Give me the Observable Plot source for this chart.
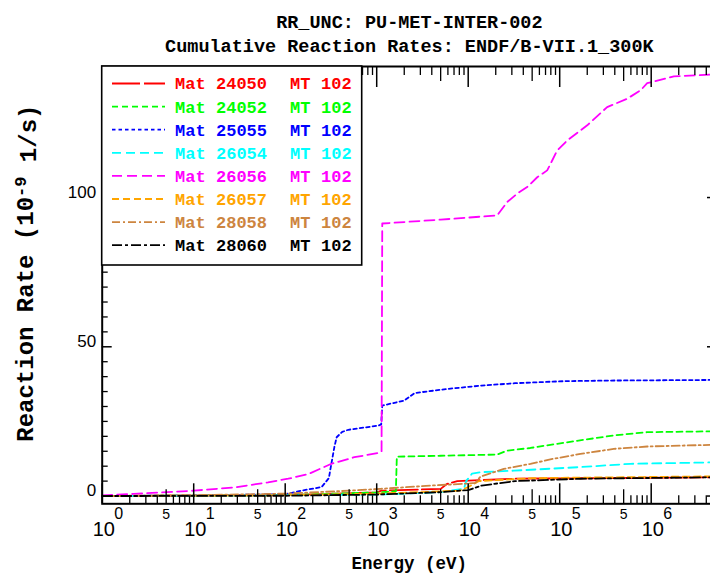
<!DOCTYPE html>
<html><head><meta charset="utf-8">
<script src="https://cdn.jsdelivr.net/npm/d3@7"></script>
<script src="https://cdn.jsdelivr.net/npm/@observablehq/plot@0.6"></script>
<style>
html,body{margin:0;padding:0;background:#fff;overflow:hidden;}
#chart svg{display:block;overflow:hidden;}
</style></head><body><div id="chart"></div>
<script>
// ---- data ----
const mats = ["24050","24052","25055","26054","26056","26057","28058","28060"];
const mtNumber = "102";
const titleLine1 = "RR_UNC: PU-MET-INTER-002";
const titleLine2 = "Cumulative Reaction Rates: ENDF/B-VII.1_300K";
const xLabel = "Energy (eV)";
const yLabel = "Reaction Rate (10-9 1/s)";

const energy24050 = [1, 100, 1000, 1130, 5000, 5900, 7600, 32500, 5200000];
const rate24050   = [0, 0.3, 1.2, 1.8, 2.4, 4.1, 5.0, 5.8, 6.3];

const energy24052 = [1, 100, 1000, 1620, 1660, 5000, 20700, 26700, 47800, 120000, 390000, 904000, 5200000];
const rate24052   = [0, 0.3, 1.2, 1.6, 13.2, 13.5, 13.9, 15.2, 16.1, 18.0, 20.3, 21.4, 21.7];

const energy25055 = [1, 10, 100, 150, 250, 300, 320, 345, 365, 420, 490, 1040, 1120, 1150, 2000, 2600, 6000, 14000, 32500, 115000, 400000, 5200000];
const rate25055   = [0, 0.2, 0.6, 1.8, 3.0, 6.0, 10.9, 16.5, 19.7, 21.5, 22.2, 23.6, 24.0, 30.3, 32.0, 34.5, 35.9, 37.0, 37.8, 38.5, 38.7, 38.9];

const energy26054 = [1, 1000, 5000, 9000, 9500, 11000, 14000, 31500, 168600, 594000, 5200000];
const rate26054   = [0, 0.5, 1.3, 2.5, 5.0, 7.5, 8.0, 8.5, 9.7, 10.8, 11.3];

const energy26056 = [1, 2.2, 10, 28, 65, 108, 180, 320, 570, 1040, 1130, 1150, 5000, 20700, 26700, 34300, 44100, 56800, 73000, 82800, 94000, 120800, 200000, 330000, 547000, 764000, 904000, 1770000, 5200000];
const rate26056   = [0.2, 0.7, 1.8, 2.9, 4.6, 5.8, 7.4, 10.8, 13.0, 14.4, 14.9, 91.3, 92.6, 94.0, 98.5, 101.3, 103.5, 106.8, 109.1, 112.4, 115.8, 119.1, 124.2, 130.3, 133.1, 135.9, 138.3, 140.6, 141.3];

const energy26057 = [1, 100, 1000, 8000, 10000, 13000, 50000, 5200000];
const rate26057   = [0, 0.3, 0.8, 1.8, 3.0, 5.0, 6.0, 6.6];

const energy28058 = [1, 10, 100, 500, 1100, 3870, 8950, 12000, 13600, 24500, 47900, 86200, 168600, 390000, 904000, 5200000];
const rate28058   = [0, 0.3, 0.8, 1.8, 2.4, 3.5, 4.1, 4.4, 6.5, 9.1, 10.8, 12.5, 14.1, 15.8, 16.6, 17.2];

const energy28060 = [1, 100, 1000, 5000, 10000, 14000, 32500, 170000, 5200000];
const rate28060   = [0, 0.1, 0.5, 1.3, 2.0, 3.5, 5.0, 5.8, 6.3];

const xExponents = [0, 1, 2, 3, 4, 5, 6];
const xFiveTicks = [5, 50, 500, 5000, 50000, 500000, 5000000];
const yTickLabels = [0, 50, 100];
const yMinorTicks = [5,10,15,20,25,30,35,40,45,55,60,65,70,75,80,85,90,95,105,110,115,120,125,130,135,140];

// ---- styles ----
const colorOf = {"24050":"#ff0000","24052":"#00ff00","25055":"#0000ff","26054":"#00ffff",
                 "26056":"#ff00ff","26057":"#ffa500","28058":"#cd853f","28060":"#000000"};
const dashOf  = {"24050":"28,4","24052":"6,4","25055":"3.5,3","26054":"9,5",
                 "26056":"10,5","26057":"7,4","28058":"8,3,2,3","28060":"10,3,3,3"};

const seriesData = {
  "24050":[energy24050, rate24050], "24052":[energy24052, rate24052],
  "25055":[energy25055, rate25055], "26054":[energy26054, rate26054],
  "26056":[energy26056, rate26056], "26057":[energy26057, rate26057],
  "28058":[energy28058, rate28058], "28060":[energy28060, rate28060]
};
const rows = mats.flatMap(m => seriesData[m][0].map((e, i) => ({mat: m, energy: e, rate: seriesData[m][1][i]})));

// minor x ticks 2..9 per decade (except 5)
const xMinorTicks = [];
for (const p of [0,1,2,3,4,5,6]) for (const k of [2,3,4,6,7,8,9]) xMinorTicks.push(k * 10 ** p);
const xMajorTicks = xExponents.map(d => 10 ** d);

const W = 710, H = 574;
const mL = 101.7, mT = 66, mR = -6, mB = 70.7;
const xMax = 10 ** ((W - mR - mL) / 91.5);
const mono = "Liberation Mono, DejaVu Sans Mono, monospace";
const sans = "Liberation Sans, Arial, sans-serif";
const noText = () => "";

const chart = Plot.plot({
  width: W, height: H,
  marginTop: mT, marginBottom: mB, marginLeft: mL, marginRight: mR,
  x: {type: "log", domain: [1, xMax], range: [mL, W - mR], axis: null},
  y: {domain: [-2.6, 143.9], range: [H - mB, mT], axis: null},
  style: {background: "white", overflow: "hidden"},
  marks: [
    ...mats.map(m => Plot.line(rows.filter(r => r.mat === m), {
      x: "energy", y: "rate", stroke: colorOf[m], strokeWidth: 1.8, strokeDasharray: dashOf[m]
    })),
    // x ticks bottom/top
    Plot.axisX(xMinorTicks, {anchor: "bottom", tickSize: -8, tickFormat: noText, label: null, strokeWidth: 1.3}),
    Plot.axisX(xFiveTicks, {anchor: "bottom", tickSize: -14, tickFormat: noText, label: null, strokeWidth: 1.3}),
    Plot.axisX(xMajorTicks, {anchor: "bottom", tickSize: -20, tickFormat: noText, label: null, strokeWidth: 1.5}),
    Plot.axisX(xMinorTicks, {anchor: "top", tickSize: -8, tickFormat: noText, label: null, strokeWidth: 1.3}),
    Plot.axisX(xFiveTicks, {anchor: "top", tickSize: -14, tickFormat: noText, label: null, strokeWidth: 1.3}),
    Plot.axisX(xMajorTicks, {anchor: "top", tickSize: -20, tickFormat: noText, label: null, strokeWidth: 1.5}),
    // y ticks left/right
    Plot.axisY(yMinorTicks, {anchor: "left", tickSize: -6, tickFormat: noText, label: null, strokeWidth: 1.3}),
    Plot.axisY(yTickLabels, {anchor: "left", tickSize: -10, tickFormat: noText, label: null, strokeWidth: 1.5}),
    Plot.axisY(yMinorTicks, {anchor: "right", tickSize: -6, tickFormat: noText, label: null, strokeWidth: 1.3}),
    Plot.axisY(yTickLabels, {anchor: "right", tickSize: -10, tickFormat: noText, label: null, strokeWidth: 1.5}),
    Plot.frame({stroke: "black", strokeWidth: 2}),
    // tick labels
    Plot.text(xExponents, {x: d => 10 ** d, text: () => "10", frameAnchor: "bottom", lineAnchor: "middle",
      dy: 26, dx: 1.6, fontSize: 20, fontFamily: sans, fill: "black"}),
    Plot.text(xExponents, {x: d => 10 ** d, text: d => String(d), frameAnchor: "bottom", lineAnchor: "middle",
      dy: 10, dx: 12, textAnchor: "start", fontSize: 16, fontFamily: sans, fill: "black"}),
    Plot.text(xFiveTicks, {x: d => d, text: () => "5", frameAnchor: "bottom", lineAnchor: "middle", dy: 11,
      fontSize: 14, fontFamily: sans, fill: "black"}),
    Plot.text(yTickLabels, {y: d => d, text: d => String(d), frameAnchor: "left", textAnchor: "end",
      lineAnchor: "middle", dx: -6, dy: -5, fontSize: 17, fontFamily: sans, fill: "black"}),
    // titles & axis labels
    Plot.text([titleLine1], {text: d => d, frameAnchor: "top", lineAnchor: "middle", textAnchor: "middle",
      dy: -44, fontSize: 18.5, fontFamily: mono, fontWeight: "bold", fill: "black"}),
    Plot.text([titleLine2], {text: d => d, frameAnchor: "top", lineAnchor: "middle", textAnchor: "middle",
      dy: -20, fontSize: 18.5, fontFamily: mono, fontWeight: "bold", fill: "black"}),
    Plot.text([xLabel], {text: d => d, frameAnchor: "bottom", lineAnchor: "middle", textAnchor: "middle",
      dy: 60, fontSize: 17.5, fontFamily: mono, fontWeight: "bold", fill: "black"}),
    Plot.text([yLabel], {text: d => d, frameAnchor: "left", lineAnchor: "middle", textAnchor: "middle",
      dx: -76.7, dy: -12, rotate: -90, fontSize: 24, fontFamily: mono, fontWeight: "bold", fill: "black"})
  ]
});

// superscript in the y label
d3.select(chart).selectAll("text").filter(function() { return this.textContent === yLabel; }).each(function() {
  const t = d3.select(this);
  t.text(null);
  t.append("tspan").text("Reaction Rate (10");
  t.append("tspan").attr("dy", "-0.45em").attr("font-size", "17px").text("-9");
  t.append("tspan").attr("dy", "0.45em").text(" 1/s)");
});

// legend box
const svg = d3.select(chart);
const lg = svg.append("g").attr("text-anchor", "start");
lg.append("rect").attr("x", mL).attr("y", mT).attr("width", 260).attr("height", 199)
  .attr("fill", "white").attr("stroke", "black").attr("stroke-width", 1.6);
mats.forEach((m, i) => {
  const yy = 83.5 + i * 23.1;
  lg.append("line").attr("x1", 112).attr("x2", 165).attr("y1", yy).attr("y2", yy)
    .attr("stroke", colorOf[m]).attr("stroke-width", 1.8).attr("stroke-dasharray", dashOf[m]);
  const parts = [["Mat", 175], [m, 216], ["MT", 290], [mtNumber, 321]];
  parts.forEach(([s, x]) => {
    lg.append("text").attr("x", x).attr("y", yy).attr("dy", "0.35em").attr("text-anchor", "start")
      .attr("font-family", mono).attr("font-weight", "bold").attr("font-size", 17)
      .attr("fill", colorOf[m]).text(s);
  });
});

document.getElementById("chart").appendChild(chart);
</script></body></html>
